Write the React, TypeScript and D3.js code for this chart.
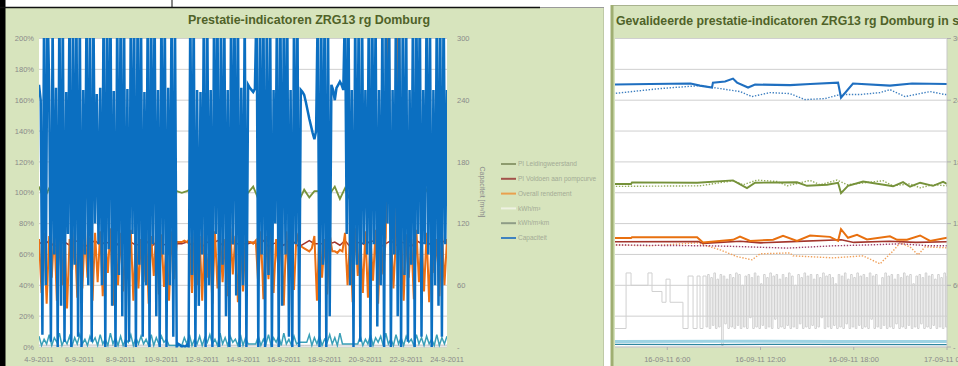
import React from 'react';
import * as d3 from 'd3';

const HOUR = 3600 * 1000;
const LEFT_START = new Date(2011, 8, 4).getTime();
const LEFT_END = new Date(2011, 8, 24).getTime();
const RIGHT_START = new Date(2011, 8, 16).getTime();
const RIGHT_END = new Date(2011, 8, 17).getTime();

// ---------- labels ----------
const leftTitle = 'Prestatie-indicatoren ZRG13 rg Domburg';
const rightTitle = 'Gevalideerde prestatie-indicatoren ZRG13 rg Domburg in s';
const leftDateDays = [4, 6, 8, 10, 12, 14, 16, 18, 20, 22, 24];
const leftDateLabels = ['4-9-2011', '6-9-2011', '8-9-2011', '10-9-2011', '12-9-2011', '14-9-2011', '16-9-2011', '18-9-2011', '20-9-2011', '22-9-2011', '24-9-2011'];
const pctTicks = [0, 20, 40, 60, 80, 100, 120, 140, 160, 180, 200];
const pctTickLabels = ['0%', '20%', '40%', '60%', '80%', '100%', '120%', '140%', '160%', '180%', '200%'];
const capTicks = [0, 60, 120, 180, 240, 300];
const capTickLabels = ['-', '60', '120', '180', '240', '300'];
const capAxisTitle = 'Capaciteit [m³/h]';
const rightTimeTicks = [6, 12, 18, 24];
const rightTimeLabels = ['16-09-11 6:00', '16-09-11 12:00', '16-09-11 18:00', '17-09-11 0:00'];
const legendLabels = ['PI Leidingweerstand', 'PI Voldoen aan pompcurve', 'Overall rendement', 'kWh/m³', 'kWh/m³km', 'Capaciteit'];

// ---------- left chart data (4-9-2011 .. 24-9-2011) ----------
// Capaciteit [m3/h], every 2 hours
const capacity2h = [
  255, 240, 12, 335, 60, 340, 250, 5, 320, 90, 252, 0,
  345, 40, 330, 5, 248, 110, 350, 0, 325, 80, 338, 10,
  330, 0, 250, 90, 345, 60, 320, 5, 335, 120, 246, 100,
  252, 60, 340, 0, 330, 95, 355, 40, 249, 0, 330, 70,
  325, 30, 345, 0, 251, 5, 335, 110, 320, 0, 340, 80,
  330, 10, 248, 60, 350, 0, 325, 100, 338, 30, 250, 0,
  340, 90, 330, 0, 252, 60, 345, 10, 320, 0, 3, 2,
  0, 1, 0, 2, 0, 335, 70, 330, 0, 250, 40, 248,
  90, 340, 0, 325, 60, 250, 0, 345, 110, 330, 0, 320,
  80, 335, 30, 250, 0, 340, 100, 330, 50, 345, 0, 252,
  60, 330, 0, 255, 252, 250, 248, 251, 340, 0, 325, 90,
  345, 0, 330, 70, 320, 0, 250, 120, 340, 0, 335, 40,
  330, 90, 345, 10, 250, 0, 325, 100, 338, 0, 250, 248,
  245, 238, 230, 222, 215, 208, 202, 210, 335, 0, 330, 80,
  340, 0, 325, 30, 255, 250, 240, 252, 255, 258, 255, 250,
  335, 110, 345, 60, 250, 0, 330, 80, 320, 5, 340, 100,
  250, 90, 335, 0, 345, 100, 325, 20, 250, 60, 330, 0,
  340, 120, 330, 0, 250, 90, 345, 30, 320, 0, 335, 70,
  325, 5, 250, 80, 340, 0, 330, 110, 345, 10, 250, 100,
  335, 90, 320, 0, 250, 60, 340, 40, 330, 10, 345, 100,
  250,
];
// Overall rendement [%], every 3 hours
const rendement3h = [
  70, 35, 74, 28, 72, 45, 76, 30,
  73, 40, 78, 25, 70, 50, 75, 32,
  72, 38, 76, 45, 71, 30, 74, 42,
  75, 33, 70, 48, 77, 27, 72, 40,
  74, 36, 71, 44, 76, 30, 73, 38,
  70, 42, 75, 28, 72, 46, 77, 34,
  73, 39, 70, 30, 75, 44, 68, 68,
  68, 69, 68, 70, 35, 74, 40, 72,
  30, 76, 45, 71, 28, 75, 38, 73,
  42, 70, 33, 77, 47, 72, 29, 74,
  36, 71, 68, 68, 67, 69, 40, 75,
  31, 72, 44, 76, 35, 70, 48, 73,
  27, 75, 41, 71, 37, 74, 66, 65,
  64, 63, 62, 64, 72, 30, 76, 45,
  70, 34, 73, 62, 62, 61, 63, 62,
  74, 40, 71, 29, 77, 46, 72, 35,
  75, 32, 70, 43, 76, 28, 73, 47,
  71, 230, 74, 38, 72, 240, 75, 30,
  73, 45, 70, 31, 76, 42, 71, 36,
  74, 29, 72, 48, 70, 33, 75, 40,
  70,
];
// PI Leidingweerstand [%], every 6 hours
const leiding6h = [
  104, 96, 103, 95, 105, 97, 102, 96, 104, 95, 103, 97, 105, 96, 102, 95,
  104, 97, 103, 96, 105, 95, 102, 97, 104, 96, 101, 101, 100, 101, 103, 96,
  105, 95, 104, 97, 103, 96, 102, 101, 101, 100, 104, 96, 103, 95, 105, 97,
  104, 96, 103, 95, 102, 97, 101, 101, 100, 99, 104, 96, 103, 95, 105, 97,
  104, 96, 102, 95, 103, 97, 105, 96, 104, 95, 103, 97, 102, 96, 104, 95,
  103,
];
// PI Voldoen aan pompcurve [%], every 6 hours
const voldoen6h = [
  68, 66, 69, 65, 67, 68, 66, 69, 68, 65, 67, 69, 66, 68, 67, 65,
  69, 67, 68, 66, 67, 69, 65, 68, 67, 66, 67, 67, 67, 68, 66, 69,
  65, 68, 67, 69, 66, 68, 67, 67, 67, 67, 68, 66, 69, 65, 67, 68,
  66, 69, 68, 65, 67, 69, 67, 67, 67, 67, 68, 66, 69, 65, 67, 68,
  66, 69, 68, 65, 67, 69, 66, 68, 67, 65, 69, 67, 68, 66, 67, 69,
  67,
];
// kWh/m3km [% axis], every 3 hours
const kwhm3km3h = [
  7, 1, 5, 2, 8, 1, 6, 3, 9, 1, 5, 2, 7, 1, 6, 2, 8, 2, 5, 1, 7, 3, 6, 1,
  8, 2, 5, 1, 9, 2, 6, 1, 7, 1, 5, 3, 8, 1, 6, 2, 7, 2, 5, 1, 8, 1, 6, 2,
  7, 3, 5, 1, 1, 1, 1, 1, 1, 6, 2, 8, 1, 5, 2, 7, 1, 6, 3, 8, 2, 5, 1, 9,
  2, 6, 1, 7, 3, 5, 1, 8, 1, 6, 2, 2, 2, 2, 7, 1, 5, 2, 8, 1, 6, 3, 7, 1,
  9, 2, 5, 1, 7, 2, 3, 3, 3, 3, 8, 1, 6, 2, 7, 1, 5, 3, 8, 2, 6, 1, 9, 2,
  2, 2, 2, 2, 2, 2, 7, 1, 5, 2, 8, 1, 6, 3, 7, 1, 9, 2, 5, 1, 8, 2, 6, 1,
  7, 3, 5, 1, 8, 2, 6, 1, 7, 2, 5, 1, 8, 1, 6, 2, 7,
];
// kWh/m3 [% axis], daily
const kwhm3Daily = [1.2, 1.1, 1.3, 1.2, 1.1, 1.2, 1.3, 1.1, 1.2, 1.2, 1.1, 1.3, 1.2, 1.1, 1.2, 1.3, 1.2, 1.1, 1.2, 1.2, 1.2];

// ---------- right chart data (16-09-2011), [hour, value] ----------
const capSolidR: [number, number][] = [
  [2.5, 255.2], [4.9, 255.7], [7.5, 256.2], [8.1, 254.2], [8.88, 252.3], [8.94, 257.1], [9.72, 258.1],
  [10.23, 261], [10.49, 257.1], [11.2, 252.3], [11.65, 255.2], [13.9, 254.7], [15.2, 255.7], [16.99, 257.1],
  [17.18, 242.5], [17.95, 256.2], [20.33, 254.2], [21.75, 256.2], [24, 255.7],
];
const capValR: [number, number][] = [
  [2.5, 246.4], [5.53, 251.3], [8.11, 254.2], [9.4, 251.3], [10.68, 248.4], [11.45, 243.5], [12.61, 247.4],
  [13.9, 246.4], [14.86, 240.6], [16.15, 241.6], [17.12, 245.5], [18.4, 245.5], [19.69, 247.4], [20.33, 250.3],
  [21.3, 243.5], [22.91, 248.4], [23.87, 245.5], [24, 245.5],
];
const leidingSolidR: [number, number][] = [
  [2.5, 105.7], [3.67, 105.7], [3.73, 106.7], [7.92, 106.5], [10.23, 108], [11.13, 103], [11.65, 106.5],
  [14.35, 106.8], [14.99, 104.5], [16.28, 105.2], [16.99, 106.5], [17.18, 99.8], [17.63, 104.5], [18.6, 107.3],
  [20.53, 104.2], [21.17, 106.9], [21.62, 103.9], [22.27, 106.5], [23.1, 104.5], [23.75, 107.1], [24, 105.8],
];
const leidingValR: [number, number][] = [
  [2.5, 104.1], [8.11, 104.5], [10.23, 107.8], [10.88, 105.2], [11.78, 108.2], [13.06, 107.3], [13.71, 104.5],
  [15.19, 108], [15.83, 105.2], [16.92, 108.2], [17.57, 105.2], [19.88, 107.8], [20.53, 104.5], [21.62, 105.8],
  [22.27, 103.2], [23.1, 105.2], [24, 104.5],
];
const rendementSolidR: [number, number][] = [
  [2.5, 70.6], [3.67, 70.6], [3.73, 71.2], [7.92, 71.2], [8.3, 67.7], [10.23, 69.5], [10.68, 71.6], [11.33, 68.8],
  [12.81, 69.5], [13.45, 72.1], [14.35, 68.8], [15.19, 72.3], [16.47, 71.4], [16.99, 68.8], [17.18, 76.4],
  [17.63, 70.8], [18.21, 72.7], [18.85, 69.7], [20.33, 71.8], [20.79, 69.5], [21.43, 69.5], [22.27, 72.3],
  [22.91, 68.8], [24, 70.8],
];
const rendementValR: [number, number][] = [
  [2.5, 66.2], [4.89, 65.6], [7.92, 67.5], [9.4, 63], [10.49, 58.6], [11.45, 56.5], [11.97, 60.4], [13.9, 61],
  [14.09, 59.1], [16.67, 57.8], [18.6, 59.1], [19.69, 53.9], [20.53, 62.3], [20.98, 67.5], [21.62, 64.9],
  [22.14, 59.7], [22.59, 64.9], [24, 64.3],
];
const voldoenSolidR: [number, number][] = [
  [2.5, 68.2], [8, 68.4], [8.3, 67.2], [10.7, 68.6], [12, 67.5], [14, 68.3], [17.2, 69.5], [18, 67.8],
  [20.3, 68.6], [22, 67.8], [24, 68.2],
];
const voldoenValR: [number, number][] = [
  [2.5, 66.2], [4.89, 65.9], [8.75, 65.6], [10.68, 65.1], [13.71, 64.1], [16.67, 65.6], [19.05, 66.2],
  [20.98, 66.9], [22.91, 65.6], [24, 65.6],
];
const kwhm3SparseR: [number, number][] = [
  [2.5, 12], [3.35, 48], [3.67, 40], [4.76, 48], [5.02, 36], [5.66, 29], [5.92, 44], [6.18, 29],
  [7.01, 12], [7.34, 46], [7.66, 12], [7.92, 46], [8.11, 12], [8.3, 46],
];
// kWh/m3 every 6 minutes from 8:24
const kwhm3DenseR = [
  46, 13, 47, 12, 45, 14, 48, 12, 44, 13, 47, 1, 46, 15, 44, 12, 47, 13, 45, 12,
  48, 14, 47, 12, 40, 13, 46, 12, 47, 19, 45, 12, 48, 13, 46, 12, 41, 14, 47, 12,
  45, 13, 48, 12, 46, 18, 47, 12, 44, 13, 47, 12, 45, 14, 48, 12, 46, 13, 40, 12,
  47, 15, 45, 12, 48, 13, 46, 12, 47, 14, 44, 12, 47, 13, 45, 19, 48, 12, 46, 13,
  47, 12, 45, 14, 41, 12, 47, 13, 46, 12, 48, 15, 44, 12, 47, 13, 45, 12, 48, 14,
  46, 12, 47, 13, 45, 12, 48, 18, 46, 12, 47, 13, 40, 12, 45, 14, 48, 12, 46, 13,
  47, 12, 44, 15, 47, 12, 45, 13, 48, 12, 46, 14, 47, 12, 41, 13, 46, 12, 47, 15,
  45, 12, 48, 13, 46, 12, 47, 14, 44, 12, 47, 13, 45, 12, 48, 13, 46,
];
const kwhm3kmR: [number, number][] = [[2.5, 1.7], [9, 1.6], [15, 1.7], [24, 1.6]];
const kwhm3kmLightR: [number, number][] = [[2.5, 3.6], [10, 3.7], [17, 3.6], [24, 3.6]];

type P = { t: Date; v: number };
const regular = (vals: number[], stepH: number, start: number): P[] =>
  vals.map((v, i) => ({ t: new Date(start + i * stepH * HOUR), v }));
const pairs = (arr: [number, number][], start: number): P[] =>
  arr.map(([h, v]) => ({ t: new Date(start + h * HOUR), v }));

const BG = '#d7e4bd';
const TITLE = '#4f6228';
const TICK = '#8a8a8a';
const FONT = "'Liberation Sans', Arial, sans-serif";
const NARROW = "'Liberation Sans Narrow', 'Liberation Sans', Arial, sans-serif";

export default function App() {
  // left chart scales
  const xL = d3.scaleTime().domain([new Date(LEFT_START), new Date(LEFT_END)]).range([39, 447]);
  const yL = d3.scaleLinear().domain([0, 200]).range([347, 38.5]);
  const yCL = d3.scaleLinear().domain([0, 300]).range([347, 38.5]);
  const lineL = d3.line<P>().x(d => xL(d.t)).y(d => yL(d.v));
  const lineCL = d3.line<P>().x(d => xL(d.t)).y(d => yCL(d.v));

  // right chart scales
  const xR = d3.scaleTime().domain([new Date(RIGHT_START), new Date(RIGHT_END)]).range([574, 947]);
  const yR = d3.scaleLinear().domain([0, 200]).range([347, 38.5]);
  const yCR = d3.scaleLinear().domain([0, 300]).range([347, 38.5]);
  const lineR = d3.line<P>().x(d => xR(d.t)).y(d => yR(d.v));
  const lineCR = d3.line<P>().x(d => xR(d.t)).y(d => yCR(d.v));
  const stepR = d3.line<P>().x(d => xR(d.t)).y(d => yR(d.v)).curve(d3.curveStepAfter);

  const capL = regular(capacity2h, 2, LEFT_START);
  const rendL = regular(rendement3h, 3, LEFT_START);
  const leidL = regular(leiding6h, 6, LEFT_START);
  const voldL = regular(voldoen6h, 6, LEFT_START);
  const kmL = regular(kwhm3km3h, 3, LEFT_START);
  const kwhL = regular(kwhm3Daily, 24, LEFT_START);

  const grayR = pairs(kwhm3SparseR, RIGHT_START).concat(regular(kwhm3DenseR, 0.1, RIGHT_START + 8.4 * HOUR));

  const legendColors = ['#8d9b6e', '#a2524a', '#e9a04e', '#eef2e2', '#8e9c86', '#3f82c0'];

  return (
    <div style={{ position: 'absolute', left: 0, top: 0 }}>
      <svg width={958} height={366} style={{ display: 'block', background: '#fff' }}>
        <defs>
          <clipPath id="clipL"><rect x={39} y={38} width={408} height={309.5} /></clipPath>
          <clipPath id="clipR"><rect x={615} y={38} width={332} height={309.5} /></clipPath>
        </defs>

        {/* ===== right panel (behind) ===== */}
        <rect x={612} y={5} width={346} height={361} fill={BG} />
        <line x1={612} x2={958} y1={5.5} y2={5.5} stroke="#a9b38f" strokeWidth={1} />
        <rect x={610.5} y={5} width={3} height={361} fill="#9fae72" />
        <text x={616} y={25} fontFamily={NARROW} fontWeight="bold" fontSize={13} fill={TITLE}
          textLength={343} lengthAdjust="spacingAndGlyphs">{rightTitle}</text>
        <rect x={615} y={38.5} width={332} height={308.5} fill="#fff" />
        {pctTicks.map(v => (
          <line key={'gr' + v} x1={615} x2={947} y1={yR(v)} y2={yR(v)} stroke="#cfcfcf" strokeWidth={1} />
        ))}
        <g clipPath="url(#clipR)" fill="none">
          <path d={stepR(grayR) || ''} stroke="#d0d0d0" strokeWidth={1} />
          <path d={lineR(pairs(kwhm3kmLightR, RIGHT_START)) || ''} stroke="#9dd3e3" strokeWidth={3} />
          <path d={lineR(pairs(kwhm3kmR, RIGHT_START)) || ''} stroke="#2f86a0" strokeWidth={1.3} />
          <path d={lineR(pairs(rendementValR, RIGHT_START)) || ''} stroke="#f0a05a" strokeWidth={1.4} strokeDasharray="1.4 1.6" />
          <path d={lineR(pairs(voldoenValR, RIGHT_START)) || ''} stroke="#9b3f6a" strokeWidth={1.4} strokeDasharray="1.4 1.6" />
          <path d={lineR(pairs(voldoenSolidR, RIGHT_START)) || ''} stroke="#a3362c" strokeWidth={1.6} />
          <path d={lineR(pairs(rendementSolidR, RIGHT_START)) || ''} stroke="#e8700f" strokeWidth={2} />
          <path d={lineR(pairs(leidingValR, RIGHT_START)) || ''} stroke="#92ab5a" strokeWidth={1.4} strokeDasharray="1.4 1.6" />
          <path d={lineR(pairs(leidingSolidR, RIGHT_START)) || ''} stroke="#76923a" strokeWidth={1.9} />
          <path d={lineCR(pairs(capValR, RIGHT_START)) || ''} stroke="#3d7fc0" strokeWidth={1.4} strokeDasharray="1.4 1.6" />
          <path d={lineCR(pairs(capSolidR, RIGHT_START)) || ''} stroke="#1f6fc0" strokeWidth={2.1} />
        </g>
        <line x1={615} x2={947} y1={347} y2={347} stroke="#c8c8c8" />
        <line x1={947} x2={947} y1={38.5} y2={347} stroke="#c8c8c8" />
        {capTicks.map((v, i) => (
          <g key={'rc' + v}>
            <line x1={947} x2={951} y1={yCR(v)} y2={yCR(v)} stroke="#b0b0b0" />
            <text x={953} y={yCR(v)} dy="0.35em" fontFamily={FONT} fontSize={7.5} fill={TICK}>{capTickLabels[i]}</text>
          </g>
        ))}
        {rightTimeTicks.map((h, i) => {
          const x = xR(new Date(RIGHT_START + h * HOUR));
          return (
            <g key={'rt' + h}>
              <line x1={x} x2={x} y1={347} y2={350} stroke="#b0b0b0" />
              <text x={x} y={362} textAnchor="middle" fontFamily={FONT} fontSize={7.5} fill={TICK}>{rightTimeLabels[i]}</text>
            </g>
          );
        })}

        {/* ===== left panel ===== */}
        <rect x={5} y={8} width={598} height={358} fill={BG} />
        <line x1={603.5} x2={603.5} y1={8} y2={366} stroke="#bfcaa6" />
        <rect x={0} y={0} width={5.5} height={366} fill="#000" />
        <line x1={0} x2={540} y1={7.5} y2={7.5} stroke="#111" strokeWidth={1.5} />
        <line x1={540} x2={604} y1={7.5} y2={7.5} stroke="#9a9a9a" strokeWidth={1} />
        <line x1={172} x2={172} y1={0} y2={7} stroke="#111" strokeWidth={1} />
        <text x={188} y={24} fontFamily={NARROW} fontWeight="bold" fontSize={13} fill={TITLE}
          textLength={242} lengthAdjust="spacingAndGlyphs">{leftTitle}</text>

        <rect x={39} y={38.5} width={408} height={308.5} fill="#fff" />
        {pctTicks.map(v => (
          <line key={'gl' + v} x1={39} x2={447} y1={yL(v)} y2={yL(v)} stroke="#cfcfcf" strokeWidth={1} />
        ))}
        <g clipPath="url(#clipL)" fill="none" strokeLinejoin="miter">
          <path d={lineL(leidL) || ''} stroke="#77933c" strokeWidth={1.8} />
          <path d={lineL(voldL) || ''} stroke="#a3362c" strokeWidth={1.5} />
          <path d={lineL(rendL) || ''} stroke="#ec7014" strokeWidth={2} />
          <path d={lineL(kwhL) || ''} stroke="#bdbdbd" strokeWidth={1} />
          <path d={lineL(kmL) || ''} stroke="#3aa0b8" strokeWidth={1.5} />
          <path d={lineCL(capL) || ''} stroke="#0b6fc1" strokeWidth={2.5} />
        </g>
        {pctTicks.map((v, i) => (
          <text key={'pl' + v} x={34} y={yL(v)} dy="0.35em" textAnchor="end" fontFamily={FONT} fontSize={7.5} fill={TICK}>{pctTickLabels[i]}</text>
        ))}
        {capTicks.map((v, i) => (
          <text key={'cl' + v} x={457} y={yCL(v)} dy="0.35em" fontFamily={FONT} fontSize={7.5} fill={TICK}>{capTickLabels[i]}</text>
        ))}
        {leftDateDays.map((d, i) => (
          <text key={'dl' + d} x={xL(new Date(2011, 8, d))} y={362} textAnchor="middle" fontFamily={FONT} fontSize={7.5} fill={TICK}>{leftDateLabels[i]}</text>
        ))}
        <text transform="translate(480,192) rotate(90)" textAnchor="middle" fontFamily={FONT} fontSize={7} fill="#8a8a8a">{capAxisTitle}</text>

        {legendLabels.map((lab, i) => {
          const y = 164 + i * 14.8;
          return (
            <g key={'lg' + i}>
              <line x1={501} x2={516} y1={y} y2={y} stroke={legendColors[i]} strokeWidth={2} />
              <text x={518} y={y} dy="0.35em" fontFamily={FONT} fontSize={6.5} fill="#a3ab95">{lab}</text>
            </g>
          );
        })}
      </svg>
    </div>
  );
}
